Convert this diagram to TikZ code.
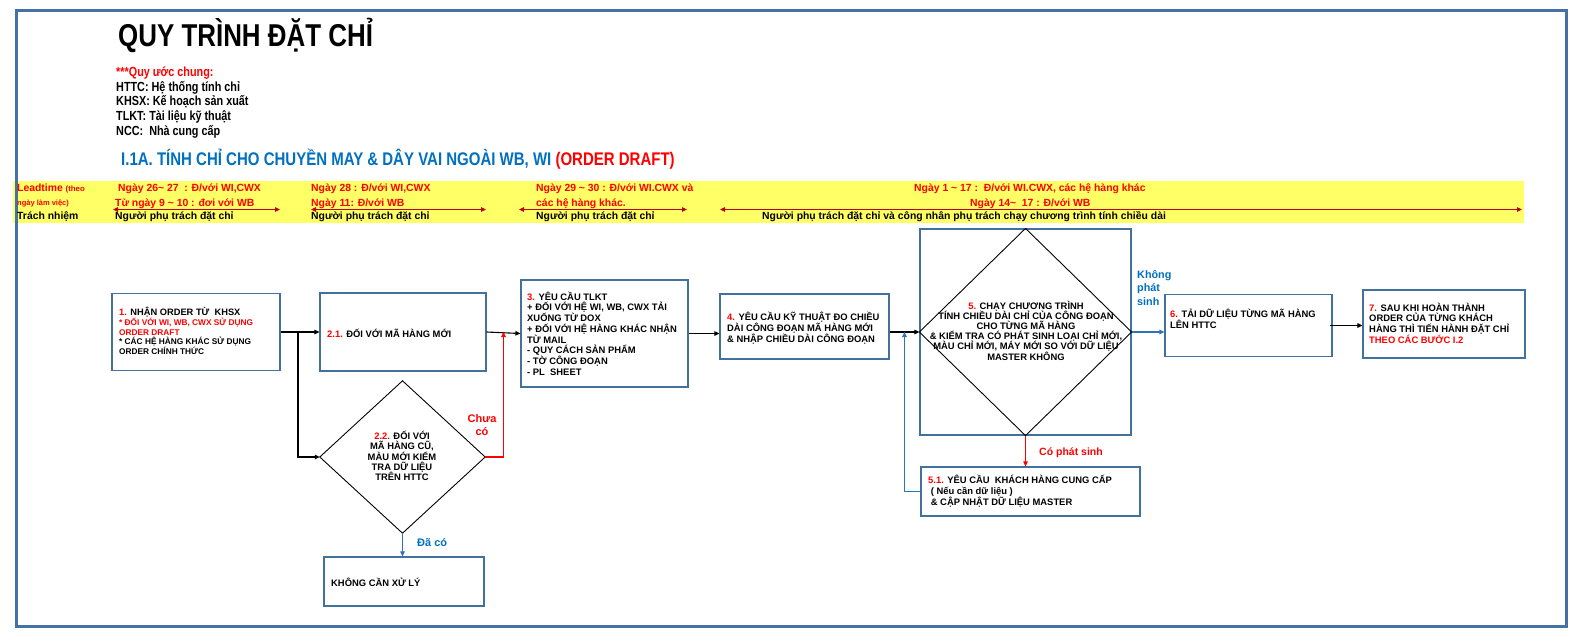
\documentclass[tikz,border=0pt]{standalone}
\usepackage{fontspec}
\setmainfont{Liberation Sans}
\newfontfamily\narrowfont[FakeStretch=0.82]{Liberation Sans}
\usetikzlibrary{arrows.meta,calc}
\definecolor{frameblue}{RGB}{68,114,164}
\definecolor{boxblue}{RGB}{65,113,156}
\definecolor{hblue}{RGB}{0,112,192}
\definecolor{myred}{RGB}{255,0,0}
\definecolor{darkred}{RGB}{192,0,0}
\definecolor{bandyellow}{RGB}{255,255,102}
\definecolor{lineblue}{RGB}{46,117,182}
\tikzset{
  box/.style={draw=boxblue, line width=1.2pt, rectangle, inner sep=0pt},
  txt/.style={inner sep=0pt, anchor=west, align=left, font=\bfseries\fontsize{9.4}{10.7}\selectfont},
  ctxt/.style={inner sep=0pt, align=center, font=\bfseries\fontsize{9.4}{10.2}\selectfont},
  bandtxt/.style={inner sep=0pt, anchor=west, font=\bfseries\fontsize{10.4}{12}\selectfont},
  lbl/.style={inner sep=0pt, align=center, font=\bfseries\fontsize{11}{13}\selectfont},
  blk/.style={draw=black, line width=1.1pt, -{Triangle[width=4.5pt,length=5pt]}},
  redl/.style={draw=myred, line width=1.1pt, -{Triangle[width=4.5pt,length=5pt]}},
  bluel/.style={draw=lineblue, line width=1.1pt, -{Triangle[width=4.5pt,length=5pt]}},
  bandarrow/.style={draw=darkred, line width=1.1pt, {Triangle[width=4.5pt,length=5pt]}-{Triangle[width=4.5pt,length=5pt]}},
}
\begin{document}
\begin{tikzpicture}[x=1pt,y=-1pt]
\useasboundingbox (0,0) rectangle (1582,641);
\fill[white] (0,0) rectangle (1582,641);

% yellow band
\fill[bandyellow] (13,181) rectangle (1524,223);

% frame
\draw[frameblue, line width=3pt] (16,10) rectangle (1566,626);

% title and legend
\node[anchor=west, inner sep=0pt, font=\narrowfont\bfseries\fontsize{31.6}{31.6}\selectfont] (title) at (118,35.5) {QUY TRÌNH ĐẶT CHỈ};
\node[anchor=west, inner sep=0pt, align=left, font=\narrowfont\bfseries\fontsize{13.2}{14.6}\selectfont] (legend) at (116,102.5)
  {\textcolor{myred}{***Quy ước chung:}\\HTTC: Hệ thống tính chỉ\\KHSX: Kế hoạch sản xuất\\TLKT: Tài liệu kỹ thuật\\NCC:\ \ Nhà cung cấp};
\node[anchor=west, inner sep=0pt, font=\narrowfont\bfseries\fontsize{18.3}{18.3}\selectfont] (heading) at (121,159)
  {\textcolor{hblue}{I.1A. TÍNH CHỈ CHO CHUYỀN MAY \& DÂY VAI NGOÀI WB, WI} \textcolor{myred}{(ORDER DRAFT)}};

% band texts
\node[bandtxt, text=myred] (lt1) at (17,189) {Leadtime {\fontsize{7.8}{9}\selectfont (theo}};
\node[bandtxt, text=myred, font=\bfseries\fontsize{7.5}{9}\selectfont] (lt2) at (17,203.5) {ngày làm việc)};
\node[bandtxt] (lt3) at (17,217) {Trách nhiệm};

\node[bandtxt, text=myred] (c1r1) at (118,189) {Ngày 26\textasciitilde{} 27\ \ : Đ/với WI,CWX};
\node[bandtxt, text=myred] (c1r2) at (115,203.5) {Từ ngày 9 \textasciitilde{} 10 : đơi với WB};
\node[bandtxt] (c1r3) at (115,217) {Người phụ trách đặt chỉ};
\coordinate (a1l) at (113,209.5); \coordinate (a1r) at (280,209.5);
\draw[bandarrow] (a1l) -- (a1r);

\node[bandtxt, text=myred] (c2r1) at (311,189) {Ngày 28 : Đ/với WI,CWX};
\node[bandtxt, text=myred] (c2r2) at (311,203.5) {Ngày 11: Đ/với WB};
\node[bandtxt] (c2r3) at (311,217) {Người phụ trách đặt chỉ};
\coordinate (a2l) at (311,209.5); \coordinate (a2r) at (486,209.5);
\draw[bandarrow] (a2l) -- (a2r);

\node[bandtxt, text=myred] (c3r1) at (536,189) {Ngày 29 \textasciitilde{} 30 : Đ/với WI.CWX và};
\node[bandtxt, text=myred] (c3r2) at (536,203.5) {các hệ hàng khác.};
\node[bandtxt] (c3r3) at (536,217) {Người phụ trách đặt chỉ};
\coordinate (a3l) at (519,209.5); \coordinate (a3r) at (687,209.5);
\draw[bandarrow] (a3l) -- (a3r);

\node[bandtxt, text=myred] (c4r1) at (914,189) {Ngày 1 \textasciitilde{} 17 :\ \ Đ/với WI.CWX, các hệ hàng khác};
\node[bandtxt, text=myred] (c4r2) at (970,203.5) {Ngày 14\textasciitilde{}\ \ 17 : Đ/với WB};
\node[bandtxt] (c4r3) at (762,217) {Người phụ trách đặt chỉ và công nhân phụ trách chạy chương trình tính chiều dài};
\coordinate (a4l) at (720,209.5); \coordinate (a4r) at (1522,209.5);
\draw[bandarrow] (a4l) -- (a4r);

% boxes
\node[box, minimum width=168, minimum height=77] (b1) at (196,332) {};
\node[txt, font=\bfseries\fontsize{8.3}{9.6}\selectfont] (t1) at (119,331)
  {{\fontsize{9.3}{9.6}\selectfont\textcolor{myred}{1.} NHẬN ORDER TỪ\ \ KHSX}\\
   \textcolor{myred}{* ĐỐI VỚI WI, WB, CWX SỬ DỤNG}\\
   \textcolor{myred}{ORDER DRAFT}\\
   * CÁC HỆ HÀNG KHÁC SỬ DỤNG\\
   ORDER CHÍNH THỨC};

\node[box, minimum width=166, minimum height=78] (b21) at (403,332) {};
\node[txt] (t21) at (327,333) {\textcolor{myred}{2.1.} ĐỐI VỚI MÃ HÀNG MỚI};

\node[box, minimum width=167, minimum height=107] (b3) at (604.5,333.5) {};
\node[txt] (t3) at (527,333.5)
  {\textcolor{myred}{3.} YÊU CẦU TLKT\\
   + ĐỐI VỚI HỆ WI, WB, CWX TẢI\\
   XUỐNG TỪ DOX\\
   + ĐỐI VỚI HỆ HÀNG KHÁC NHẬN\\
   TỪ MAIL\\
   - QUY CÁCH SẢN PHẨM\\
   - TỜ CÔNG ĐOẠN\\
   - PL\ \ SHEET};

\node[box, minimum width=169, minimum height=65] (b4) at (804.5,326.5) {};
\node[txt] (t4) at (727,328)
  {\textcolor{myred}{4.} YÊU CẦU KỸ THUẬT ĐO CHIỀU\\
   DÀI CÔNG ĐOẠN MÃ HÀNG MỚI\\
   \& NHẬP CHIỀU DÀI CÔNG ĐOẠN};

\node[box, minimum width=211, minimum height=206] (b5) at (1025.5,332) {};
\draw[black, line width=0.9pt] (b5.north) -- (b5.east) -- (b5.south) -- (b5.west) -- cycle;
\node[ctxt] (t5) at (1026,330.5)
  {\textcolor{myred}{5.} CHẠY CHƯƠNG TRÌNH\\
   TÍNH CHIỀU DÀI CHỈ CỦA CÔNG ĐOẠN\\
   CHO TỪNG MÃ HÀNG\\
   \& KIỂM TRA CÓ PHÁT SINH LOẠI CHỈ MỚI,\\
   MÀU CHỈ MỚI, MÁY MỚI SO VỚI DỮ LIỆU\\
   MASTER KHÔNG};

\node[box, minimum width=167, minimum height=62] (b6) at (1248.5,325.5) {};
\node[txt] (t6) at (1170,319)
  {\textcolor{myred}{6.} TẢI DỮ LIỆU TỪNG MÃ HÀNG\\
   LÊN HTTC};

\node[box, minimum width=162, minimum height=68] (b7) at (1444,324) {};
\node[txt] (t7) at (1369,323)
  {\textcolor{myred}{7.} SAU KHI HOÀN THÀNH\\
   ORDER CỦA TỪNG KHÁCH\\
   HÀNG THÌ TIẾN HÀNH ĐẶT CHỈ\\
   \textcolor{myred}{THEO CÁC BƯỚC I.2}};

\node[box, minimum width=219, minimum height=49] (b51) at (1030.5,491.5) {};
\node[txt] (t51) at (928,491)
  {\textcolor{myred}{5.1.} YÊU CẦU\ \ KHÁCH HÀNG CUNG CẤP\\
   \ ( Nếu cần dữ liệu )\\
   \ \& CẬP NHẬT DỮ LIỆU MASTER};

% diamond 2.2
\node[inner sep=0pt, minimum width=165, minimum height=152] (d22) at (402.5,457) {};
\draw[black, line width=0.9pt] (d22.north) -- (d22.east) -- (d22.south) -- (d22.west) -- cycle;
\node[ctxt] (t22) at (402,456)
  {\textcolor{myred}{2.2.} ĐỐI VỚI\\
   MÃ HÀNG CŨ,\\
   MÀU MỚI KIỂM\\
   TRA DỮ LIỆU\\
   TRÊN HTTC};

\node[box, minimum width=160, minimum height=49] (b8) at (404,581.5) {};
\node[txt] (t8) at (331,582) {KHÔNG CẦN XỬ LÝ};

% connectors
\coordinate (j1) at (298,332);
\coordinate (j23) at (503.5,332);
\coordinate (j45) at (904.5,332);
\draw[blk] (b1.east) -- (b21.west);
\draw[blk] (j1) |- (d22.west);
\draw[blk] (b21.east) -- (b3.west);
\draw[redl] (d22.east) -| (j23);
\draw[bluel] (d22.south) -- (d22.south |- b8.north);
\draw[blk] (b3.east) -- (b3.east -| b4.west);
\draw[blk] (b4.east |- b5.west) -- (b5.west);
\draw[bluel] (b51.west) -| (j45);
\draw[bluel] (b5.east) -- (b5.east -| b6.west);
\draw[redl] (b5.south) -- (b5.south |- b51.north);
\draw[blk] ([xshift=-3pt]b6.east) -- (b6.east -| b7.west);

% labels
\node[lbl, text=myred] (lchua) at (482,425) {Chưa\\có};
\node[lbl, text=hblue, anchor=west] (ldaco) at (417,543) {Đã có};
\node[lbl, text=hblue, anchor=west, align=left, font=\bfseries\fontsize{10.8}{13.3}\selectfont] (lkhong) at (1137,288) {Không\\phát\\sinh};
\node[lbl, text=myred, anchor=west, font=\bfseries\fontsize{10.5}{12}\selectfont] (lco) at (1039,453) {Có phát sinh};
\end{tikzpicture}
\end{document}
